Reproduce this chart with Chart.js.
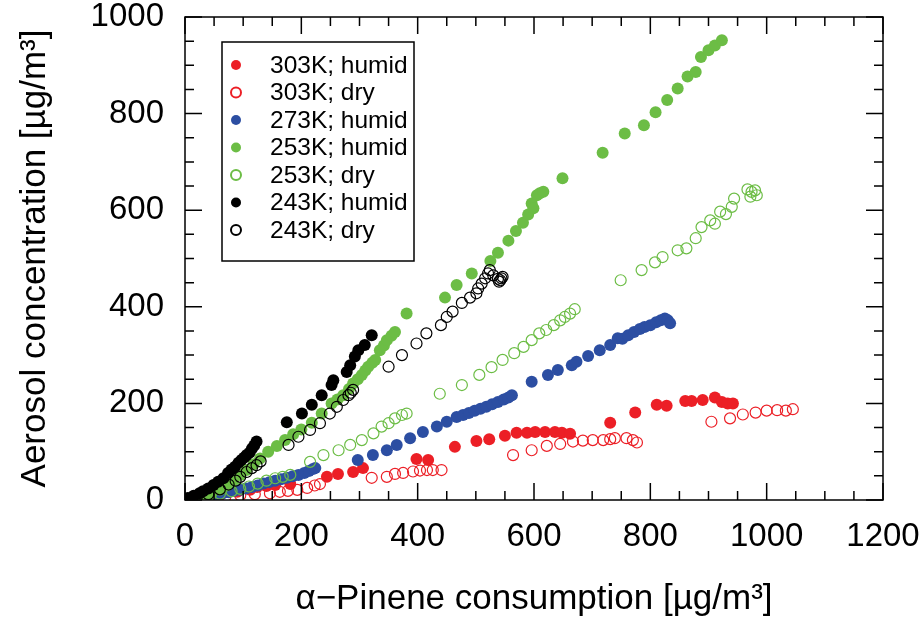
<!DOCTYPE html>
<html>
<head>
<meta charset="utf-8">
<script src="https://cdn.jsdelivr.net/npm/chart.js@4.4.1/dist/chart.umd.min.js"></script>
<style>
  html, body { margin: 0; padding: 0; background: #fff; }
</style>
</head>
<body>
<canvas id="aerosolChart" width="924" height="620"></canvas>
<script>
// series names (legend order)
const seriesNames = ['303K; humid', '303K; dry', '273K; humid', '253K; humid', '253K; dry', '243K; humid', '243K; dry'];
const xTicks = [0, 200, 400, 600, 800, 1000, 1200];
const yTicks = [0, 200, 400, 600, 800, 1000];

// [alpha-pinene consumption, aerosol concentration] in µg/m3
const humid303 = [[60,10],[90,17],[112,21],[124,27],[140,29],[155,31],[181,33],[244,48],[263,54],[289,58],[306,66],
  [398,85],[418,83],[464,110],[501,122],[523,126],[550,133],[570,139],[588,139],[602,141],[619,141],[636,141],
  [648,139],[662,137],[731,160],[774,181],[811,197],[828,195],[860,205],[871,205],[890,207],[911,212],[923,203],
  [933,200],[942,200]];
const dry303 = [[69,6],[95,10],[120,12],[146,14],[163,17],[177,19],[193,21],[210,25],[223,30],[232,33],
  [321,46],[347,48],[361,54],[375,56],[392,59],[404,61],[416,62],[426,62],[441,62],
  [564,93],[596,103],[622,112],[645,116],[667,121],[684,123],[701,124],[719,124],[731,126],[739,128],[759,128],
  [770,124],[777,119],[905,162],[937,169],[959,177],[981,181],[1000,185],[1018,186],[1033,185],[1045,188]];
const humid273 = [[15,2],[25,4],[35,7],[45,9],[55,11],[65,14],[75,16],[85,19],[95,21],[105,24],[115,27],[125,30],
  [135,34],[145,37],[155,40],[165,43],[175,46],[185,49],[195,52],[205,56],[213,60],[220,64],[224,66],
  [297,83],[323,93],[347,103],[364,114],[387,128],[409,141],[433,152],[450,162],[467,172],[478,176],[488,180],
  [498,185],[508,189],[518,193],[528,198],[538,203],[548,208],[556,212],[562,217],
  [596,245],[624,259],[641,269],[665,279],[673,286],[693,298],[713,310],[731,321],[744,335],[752,334],[762,341],
  [772,348],[782,354],[790,358],[800,362],[810,368],[818,372],[825,376],[830,372],[834,366]];
const humid253 = [[15,3],[30,7],[45,13],[60,21],[72,30],[83,41],[95,52],[106,62],[118,74],[129,86],[143,100],
  [158,112],[172,124],[186,136],[200,146],[218,160],[235,179],[252,200],[262,208],[272,217],[282,230],[289,241],
  [297,250],[304,259],[310,268],[315,276],[322,284],[327,290],[335,310],[342,320],[347,331],[355,340],[361,348],
  [381,386],[447,419],[467,445],[493,469],[525,495],[538,512],[556,537],[569,557],[581,574],[590,591],[596,614],
  [599,604],[605,631],[610,635],[616,638],[649,666],[718,719],[756,759],[789,776],[809,803],[829,828],[847,852],
  [864,877],[878,886],[887,917],[900,931],[911,941],[923,952]];
const dry253 = [[40,8],[60,13],[80,18],[95,23],[110,28],[125,34],[140,40],[155,45],[168,48],[181,52],
  [215,79],[238,93],[264,103],[284,114],[304,124],[324,138],[338,152],[350,159],[361,169],[373,176],[381,179],
  [438,220],[476,238],[506,259],[527,275],[546,290],[566,304],[582,317],[596,331],[609,345],[621,352],[634,362],
  [645,372],[653,379],[662,386],[670,395],
  [749,455],[785,476],[808,492],[821,503],[847,517],[862,521],[878,542],[888,565],[903,579],[911,572],[920,597],
  [930,592],[940,607],[944,624],[967,643],[972,628],[974,638],[980,641],[983,631]];
const humid243 = [[5,4],[15,9],[25,14],[31,18],[40,24],[49,31],[57,38],[66,45],[74,56],[80,63],[86,69],[92,77],
  [97,83],[102,88],[106,93],[111,98],[115,106],[119,113],[123,121],[175,161],[201,179],[218,197],[235,217],
  [252,238],[255,248],[278,265],[284,279],[292,297],[298,310],[309,321],[321,341]];
const dry243 = [[20,5],[40,12],[60,22],[75,32],[87,40],[95,48],[106,58],[115,66],[123,72],[130,80],
  [178,114],[195,131],[215,145],[232,159],[249,179],[261,193],[272,207],[281,217],[285,222],[289,228],
  [350,276],[373,300],[398,324],[415,345],[440,362],[450,379],[460,390],[476,408],[490,419],[501,428],[504,438],
  [510,448],[516,459],[521,469],[524,476],[530,465],[538,458],[540,452],[542,455],[544,459],[546,462]];

const seriesData = [humid303, dry303, humid273, humid253, dry253, humid243, dry243];
const seriesColors = ['#ec1f26', '#ec1f26', '#2c4ea2', '#6cbd45', '#6cbd45', '#000000', '#000000'];
const seriesFilled = [true, false, true, true, false, true, false];

const FONT = '"Liberation Sans", Arial, Helvetica, sans-serif';

const datasets = seriesData.map((d, i) => ({
  label: seriesNames[i],
  data: d,
  order: seriesData.length - i,
  pointRadius: seriesFilled[i] ? 6 : 5.5,
  pointBackgroundColor: seriesFilled[i] ? seriesColors[i] : 'rgba(0,0,0,0)',
  pointBorderColor: seriesColors[i],
  pointBorderWidth: seriesFilled[i] ? 0 : 1.2,
  showLine: false
}));

// frame, inward ticks on all sides, and the boxed legend
const frameTicksLegend = {
  id: 'frameTicksLegend',
  afterDraw(chart) {
    const { ctx, chartArea: a, scales: { x, y } } = chart;
    ctx.save();
    ctx.strokeStyle = '#000';
    ctx.lineWidth = 1.5;
    ctx.strokeRect(a.left, a.top, a.right - a.left, a.bottom - a.top);
    ctx.beginPath();
    for (let v = x.min; v <= x.max; v += 50) {
      const px = x.getPixelForValue(v);
      const len = v % 200 === 0 ? 17 : 9;
      ctx.moveTo(px, a.bottom); ctx.lineTo(px, a.bottom - len);
      ctx.moveTo(px, a.top); ctx.lineTo(px, a.top + len);
    }
    for (let v = y.min; v <= y.max; v += 50) {
      const py = y.getPixelForValue(v);
      const len = v % 200 === 0 ? 17 : 9;
      ctx.moveTo(a.left, py); ctx.lineTo(a.left + len, py);
      ctx.moveTo(a.right, py); ctx.lineTo(a.right - len, py);
    }
    ctx.stroke();

    // legend
    const lx = 222, ly = 42, lw = 192, lh = 219, rowH = 27.5;
    ctx.lineWidth = 1.5;
    ctx.strokeRect(lx, ly, lw, lh);
    ctx.font = '24.5px ' + FONT;
    ctx.textBaseline = 'middle';
    ctx.fillStyle = '#000';
    chart.data.datasets.forEach((ds, i) => {
      const cy = ly + 23 + i * rowH;
      ctx.beginPath();
      ctx.arc(lx + 14, cy, 5, 0, Math.PI * 2);
      if (seriesFilled[i]) {
        ctx.fillStyle = seriesColors[i];
        ctx.fill();
      } else {
        ctx.strokeStyle = seriesColors[i];
        ctx.lineWidth = 2;
        ctx.stroke();
      }
      ctx.fillStyle = '#000';
      ctx.fillText(ds.label, lx + 48, cy + 1);
    });
    ctx.restore();
  }
};

new Chart(document.getElementById('aerosolChart').getContext('2d'), {
  type: 'scatter',
  data: { datasets: datasets },
  options: {
    responsive: false,
    animation: false,
    layout: { padding: { top: 17, right: 41, left: 0, bottom: 0 } },
    plugins: { legend: { display: false }, tooltip: { enabled: false } },
    scales: {
      x: {
        type: 'linear', min: 0, max: 1200,
        afterBuildTicks: s => { s.ticks = xTicks.map(v => ({ value: v })); },
        afterFit: s => { s.height = 120; s.paddingLeft = 0; s.paddingRight = 0; },
        grid: { display: false },
        border: { display: false },
        ticks: { font: { size: 33, family: FONT }, color: '#000', padding: 9, maxRotation: 0,
          callback: v => String(v) },
        title: { display: true, text: 'α−Pinene consumption [µg/m³]', color: '#000',
          font: { size: 35, family: FONT }, padding: { top: 0, bottom: 0 } }
      },
      y: {
        type: 'linear', min: 0, max: 1000,
        afterBuildTicks: s => { s.ticks = yTicks.map(v => ({ value: v })); },
        afterFit: s => { s.width = 185; s.paddingTop = 0; s.paddingBottom = 0; },
        grid: { display: false },
        border: { display: false },
        ticks: { font: { size: 33, family: FONT }, color: '#000', padding: 13,
          callback: v => String(v) },
        title: { display: true, text: 'Aerosol concentration [µg/m³]', color: '#000',
          font: { size: 35, family: FONT }, padding: { top: 14, bottom: 0 } }
      }
    }
  },
  plugins: [frameTicksLegend]
});
</script>
</body>
</html>
